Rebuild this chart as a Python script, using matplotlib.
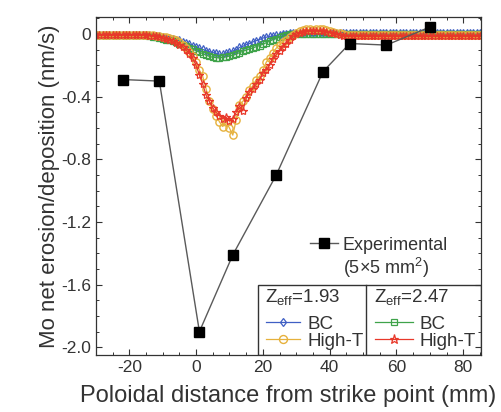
import matplotlib
matplotlib.use("Agg")
import matplotlib.pyplot as plt
import numpy as np
from matplotlib.lines import Line2D
from matplotlib.patches import Rectangle
from matplotlib.ticker import MultipleLocator

plt.rcParams['font.family'] = ['Liberation Sans', 'DejaVu Sans']
plt.rcParams['mathtext.fontset'] = 'custom'
plt.rcParams['mathtext.rm'] = 'Liberation Sans'
plt.rcParams['mathtext.it'] = 'Liberation Sans:italic'

# experimental points (5x5 mm2 samples)
exp_x = [-22, -11, 1, 11, 24, 38, 46, 57, 70]
exp_y = [-0.29, -0.30, -1.90, -1.41, -0.90, -0.24, -0.06, -0.07, 0.045]

# simulation grid, 1 mm steps from -30 to 85
sim_x = list(range(-30, 86))

# Zeff = 1.93, BC
bc_193 = ([-0.005] * 16 +
          [-0.008, -0.01, -0.012, -0.015, -0.018, -0.022, -0.026, -0.03, -0.035, -0.04,
           -0.048, -0.056, -0.065, -0.074, -0.082, -0.09, -0.098, -0.105, -0.112, -0.118,
           -0.122, -0.128, -0.13, -0.12, -0.115, -0.108, -0.1, -0.085, -0.078, -0.068,
           -0.06, -0.05, -0.042, -0.035, -0.025, -0.02, -0.015, -0.012, -0.008, -0.004,
           0.0, 0.003] +
          [0.005] * 58)

# Zeff = 2.47, BC
bc_247 = ([-0.008] * 16 +
          [-0.012, -0.016, -0.02, -0.025, -0.03, -0.035, -0.04, -0.045, -0.052, -0.06,
           -0.068, -0.078, -0.088, -0.097, -0.105, -0.115, -0.125, -0.135, -0.142, -0.148,
           -0.15, -0.152, -0.148, -0.145, -0.14, -0.135, -0.128, -0.118, -0.11, -0.102,
           -0.095, -0.088, -0.08, -0.073, -0.065, -0.055, -0.045, -0.035, -0.028, -0.02,
           -0.013, -0.007, -0.002] +
          [0.0] * 57)

# Zeff = 1.93, High-T
ht_193 = ([-0.004] * 16 +
          [-0.006, -0.008, -0.01, -0.013, -0.016, -0.02, -0.025, -0.032, -0.04, -0.052,
           -0.068, -0.09, -0.115, -0.14, -0.18, -0.23, -0.27, -0.35, -0.43, -0.48,
           -0.52, -0.56, -0.59, -0.56, -0.60, -0.645, -0.55, -0.45, -0.43, -0.40,
           -0.36, -0.33, -0.29, -0.27, -0.23, -0.18, -0.15, -0.12, -0.09, -0.07,
           -0.05, -0.035, -0.02, -0.005, 0.01, 0.02, 0.028, 0.03, 0.03, 0.028,
           0.03, 0.032, 0.03, 0.025, 0.02, 0.015, 0.01, 0.005, 0.0] +
          [-0.008] * 41)

# Zeff = 2.47, High-T
ht_247 = ([-0.006] * 16 +
          [-0.009, -0.012, -0.015, -0.019, -0.024, -0.03, -0.037, -0.045, -0.055, -0.067,
           -0.08, -0.1, -0.125, -0.155, -0.2, -0.26, -0.32, -0.39, -0.43, -0.47,
           -0.50, -0.52, -0.54, -0.53, -0.555, -0.54, -0.50, -0.46, -0.49, -0.41,
           -0.37, -0.35, -0.32, -0.29, -0.25, -0.23, -0.2, -0.16, -0.13, -0.11,
           -0.085, -0.06, -0.035, -0.015, -0.002, 0.008, 0.015, 0.02, 0.022, 0.022,
           0.022, 0.02, 0.018, 0.015, 0.01, 0.005, 0.0, -0.005, -0.01] +
          [-0.015] * 41)

x_ticks = [-20, 0, 20, 40, 60, 80]
x_labels = ['-20', '0', '20', '40', '60', '80']
y_ticks = [0, -0.4, -0.8, -1.2, -1.6, -2.0]
y_labels = ['0', '-0.4', '-0.8', '-1.2', '-1.6', '-2.0']

c_blue = '#3f5fc4'
c_green = '#3fa34a'
c_yellow = '#e6b13c'
c_red = '#e8382a'
c_text = '#333333'

fig = plt.figure(figsize=(5.02, 4.12), dpi=100)
ax = fig.add_axes([0.191, 0.138, 0.767, 0.821])

l_bc193, = ax.plot(sim_x, bc_193, color=c_blue, lw=0.9, marker='d', ms=4,
                   mfc='none', mew=0.9)
l_bc247, = ax.plot(sim_x, bc_247, color=c_green, lw=0.9, marker='s', ms=3.8,
                   mfc='none', mew=0.9)
l_ht193, = ax.plot(sim_x, ht_193, color=c_yellow, lw=0.9, marker='o', ms=5.2,
                   mfc='none', mew=1.0)
l_ht247, = ax.plot(sim_x, ht_247, color=c_red, lw=0.9, marker='*', ms=6,
                   mfc='none', mew=0.9)
l_exp, = ax.plot(exp_x, exp_y, color='#5a5a5a', lw=1.0, marker='s', ms=7,
                 mfc='black', mec='black', zorder=5)

ax.set_xlim(-30, 85.3)
ax.set_ylim(-2.05, 0.11)
ax.set_xticks(x_ticks)
ax.set_xticklabels(x_labels)
ax.set_yticks(y_ticks)
ax.set_yticklabels(y_labels)
ax.xaxis.set_minor_locator(MultipleLocator(5))
ax.yaxis.set_minor_locator(MultipleLocator(0.1))
ax.tick_params(which='both', direction='in', top=True, right=True,
               colors=c_text, labelsize=12.5)
ax.tick_params(which='major', length=4.5, width=0.8)
ax.tick_params(which='minor', length=2.5, width=0.7)
for s in ax.spines.values():
    s.set_color(c_text)
    s.set_linewidth(0.9)

ax.set_xlabel('Poloidal distance from strike point (mm)', fontsize=17,
              color=c_text, labelpad=7)
ax.set_ylabel('Mo net erosion/deposition (nm/s)', fontsize=16,
              color=c_text, labelpad=1)

# experimental legend
leg_exp = ax.legend([l_exp], ['Experimental'], loc='center left',
                    bbox_to_anchor=(0.555, 0.325), frameon=False, fontsize=13,
                    handlelength=1.6, handletextpad=0.25, borderpad=0,
                    borderaxespad=0, labelcolor=c_text)
ax.add_artist(leg_exp)
ax.text(0.642, 0.257, '(5×5 mm$^2$)', transform=ax.transAxes, fontsize=13,
        color=c_text, va='center', ha='left')

# grouped simulation legend box
ax.add_patch(Rectangle((0.421, 0.0), 0.579, 0.207, transform=ax.transAxes,
                       fill=False, ec=c_text, lw=1.0, zorder=6))
ax.plot([0.701, 0.701], [0.0, 0.207], transform=ax.transAxes, color=c_text,
        lw=1.0, zorder=6)

ax.text(0.440, 0.172, r'Z$_\mathrm{eff}$=1.93', transform=ax.transAxes,
        fontsize=13.5, color=c_text, va='center', ha='left')
ax.text(0.723, 0.172, r'Z$_\mathrm{eff}$=2.47', transform=ax.transAxes,
        fontsize=13.5, color=c_text, va='center', ha='left')

leg1 = ax.legend([l_bc193, l_ht193], ['BC', 'High-T'], loc='upper left',
                 bbox_to_anchor=(0.442, 0.117), frameon=False, fontsize=13.5,
                 handlelength=1.8, handletextpad=0.43,
                 labelspacing=0.0, borderpad=0, borderaxespad=0,
                 markerscale=1.1, labelcolor=c_text)
ax.add_artist(leg1)

leg2 = ax.legend([l_bc247, l_ht247], ['BC', 'High-T'], loc='upper left',
                 bbox_to_anchor=(0.725, 0.117), frameon=False, fontsize=13.5,
                 handlelength=2.0, handletextpad=0.37,
                 labelspacing=0.0, borderpad=0, borderaxespad=0,
                 markerscale=1.1, labelcolor=c_text)

fig.savefig('out.png', dpi=100)
